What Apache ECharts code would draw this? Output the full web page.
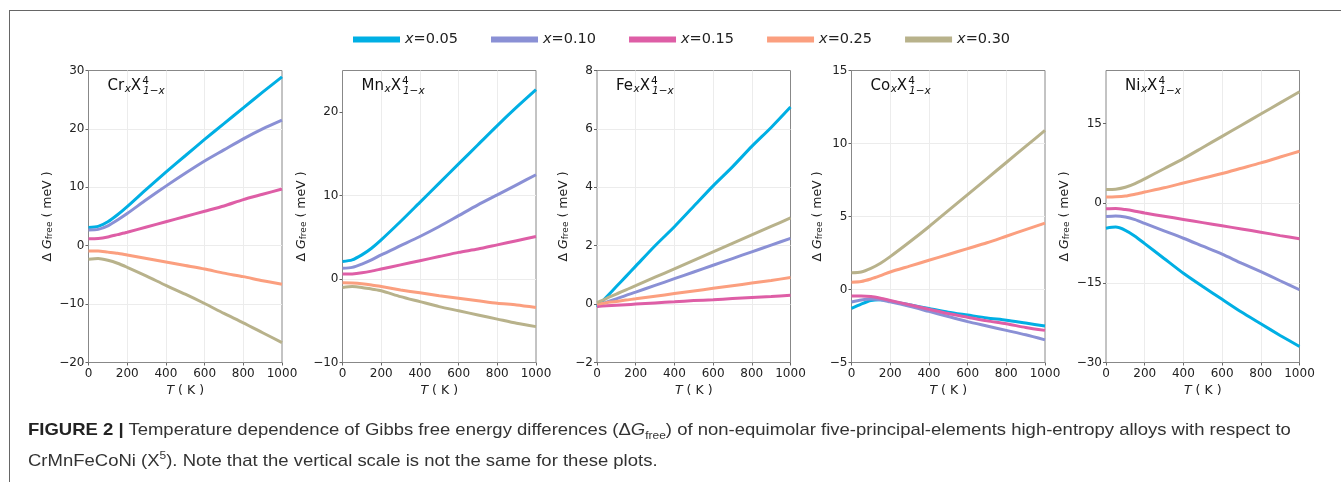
<!DOCTYPE html>
<html>
<head>
    <meta charset="utf-8">
    <title>Gibbs free energy differences</title>
    <script src="https://cdn.jsdelivr.net/npm/echarts@6/dist/echarts.min.js"></script>
    <style>
        body {margin: 0; background: #fff; overflow: hidden;}
        #frame {position: absolute; left: 9px; top: 10px; width: 1331px; height: 471px;
            border-left: 1px solid #666; border-top: 1px solid #666;}
        #main {position: absolute; left: 0; top: 0; width: 1341px; height: 482px;}
        #caption {position: absolute; left: 28px; top: 414px; font-family: "Liberation Sans Narrow", "Liberation Sans", Arial, sans-serif;
            font-size: 17px; line-height: 31px; color: #333; white-space: nowrap; transform-origin: 0 0;}
        #caption b {color: #222;}
        #caption sub, #caption sup {font-size: 11px; line-height: 0;}
    </style>
</head>
<body>
<div id="frame"></div>
<div id="main"></div>
<div id="caption">
    <div id="cap1"><b>FIGURE 2 |</b> Temperature dependence of Gibbs free energy differences (&Delta;<i>G</i><sub>free</sub>) of non-equimolar five-principal-elements high-entropy alloys with respect to</div>
    <div>CrMnFeCoNi (X<sup>5</sup>). Note that the vertical scale is not the same for these plots.</div>
</div>
<script type="text/javascript">
    // temperature grid (K)
    var temps = [0, 50, 100, 150, 200, 300, 400, 500, 600, 700, 800, 900, 1000];
    var fractions = ['0.05', '0.10', '0.15', '0.25', '0.30'];
    var colors = ['#00afe4', '#8a90d5', '#de5ea6', '#fb9f7f', '#b8b28b'];

    // ΔG_free (meV), one row per x, in the order of fractions
    var crValues = [
        [3.1, 3.3, 4.1, 5.3, 6.7, 9.7, 12.6, 15.4, 18.2, 20.9, 23.6, 26.3, 28.9],
        [2.7, 2.8, 3.4, 4.4, 5.5, 7.9, 10.2, 12.4, 14.5, 16.4, 18.3, 20.0, 21.5],
        [1.2, 1.25, 1.5, 1.9, 2.3, 3.2, 4.1, 5.0, 5.9, 6.8, 7.9, 8.8, 9.7],
        [-0.9, -0.9, -1.1, -1.3, -1.6, -2.2, -2.8, -3.4, -4.0, -4.7, -5.3, -6.0, -6.6],
        [-2.3, -2.2, -2.5, -3.0, -3.7, -5.2, -6.8, -8.3, -9.9, -11.6, -13.2, -14.9, -16.6]
    ];
    var mnValues = [
        [2.1, 2.3, 2.9, 3.7, 4.7, 6.9, 9.2, 11.5, 13.8, 16.1, 18.4, 20.6, 22.7],
        [1.3, 1.4, 1.8, 2.3, 2.9, 4.0, 5.1, 6.3, 7.6, 8.9, 10.1, 11.3, 12.5],
        [0.6, 0.62, 0.75, 0.95, 1.2, 1.7, 2.2, 2.7, 3.2, 3.6, 4.1, 4.6, 5.1],
        [-0.45, -0.47, -0.55, -0.7, -0.9, -1.3, -1.65, -2.0, -2.3, -2.6, -2.9, -3.1, -3.4],
        [-1.0, -0.9, -1.0, -1.2, -1.4, -2.1, -2.7, -3.3, -3.8, -4.3, -4.8, -5.3, -5.7]
    ];
    var feValues = [
        [-0.1, 0.25, 0.6, 0.95, 1.3, 2.0, 2.65, 3.35, 4.05, 4.7, 5.4, 6.05, 6.75],
        [-0.05, 0.07, 0.18, 0.3, 0.41, 0.64, 0.87, 1.1, 1.33, 1.56, 1.79, 2.02, 2.25],
        [-0.08, -0.06, -0.04, -0.02, 0.0, 0.04, 0.08, 0.12, 0.15, 0.19, 0.23, 0.26, 0.3],
        [0.0, 0.05, 0.09, 0.14, 0.18, 0.27, 0.36, 0.45, 0.54, 0.63, 0.72, 0.81, 0.91],
        [0.05, 0.2, 0.34, 0.49, 0.63, 0.92, 1.21, 1.5, 1.79, 2.08, 2.37, 2.66, 2.95]
    ];
    var coValues = [
        [-1.3, -1.0, -0.75, -0.7, -0.8, -1.05, -1.3, -1.55, -1.75, -1.95, -2.1, -2.3, -2.5],
        [-0.85, -0.72, -0.65, -0.7, -0.85, -1.15, -1.5, -1.85, -2.2, -2.5, -2.8, -3.1, -3.45],
        [-0.45, -0.44, -0.48, -0.6, -0.75, -1.05, -1.35, -1.65, -1.9, -2.15, -2.35, -2.6, -2.8],
        [0.5, 0.55, 0.72, 0.95, 1.2, 1.6, 2.0, 2.4, 2.8, 3.2, 3.65, 4.1, 4.55],
        [1.15, 1.2, 1.45, 1.8, 2.25, 3.25, 4.3, 5.4, 6.5, 7.6, 8.7, 9.8, 10.9]
    ];
    var niValues = [
        [-4.7, -4.5, -5.1, -6.2, -7.6, -10.4, -13.2, -15.7, -18.1, -20.5, -22.7, -24.9, -27.0],
        [-2.5, -2.4, -2.6, -3.1, -3.8, -5.2, -6.6, -8.1, -9.6, -11.3, -12.9, -14.6, -16.3],
        [-1.05, -1.0, -1.2, -1.5, -1.85, -2.45, -3.05, -3.65, -4.25, -4.85, -5.45, -6.1, -6.7],
        [1.15, 1.2, 1.35, 1.7, 2.1, 2.9, 3.8, 4.7, 5.6, 6.6, 7.6, 8.7, 9.8],
        [2.6, 2.65, 3.0, 3.7, 4.6, 6.5, 8.4, 10.5, 12.6, 14.7, 16.8, 18.9, 21.0]
    ];

    // per panel: element, y range, labelled y ticks
    var elements = ['Cr', 'Mn', 'Fe', 'Co', 'Ni'];
    var panelValues = [crValues, mnValues, feValues, coValues, niValues];
    var yMins = [-20, -10, -2, -5, -30];
    var yMaxs = [30, 25, 8, 15, 25];
    var yMajor = [10, 10, 2, 5, 15];

    var panelLefts = [88.5, 342.5, 597, 851.5, 1106];
    var panelTop = 70.5, panelWidth = 193.5, panelHeight = 292;
    var nameGaps = [34, 34, 27, 27, 35];

    var chart = echarts.init(document.getElementById('main'));

    function minus(v) {
        return String(v).replace('-', '\u2212');
    }

    // El_x X^4_{1-x}: the "4" has a negative right padding so "1-x" sits under it
    var titleRich = {
        n: {fontSize: 15, fontFamily: 'DejaVu Sans', fontWeight: 'normal', color: '#111', lineHeight: 22},
        s: {fontSize: 10.5, fontFamily: 'DejaVu Sans', fontWeight: 'normal', fontStyle: 'italic', color: '#111', verticalAlign: 'bottom', padding: [0, 0, 2, 0.5]},
        p: {fontSize: 10.5, fontFamily: 'DejaVu Sans', fontWeight: 'normal', color: '#111', verticalAlign: 'top', padding: [1, -6.7, 0, 1]},
        b: {fontSize: 10.5, fontFamily: 'DejaVu Sans', fontWeight: 'normal', fontStyle: 'italic', color: '#111', verticalAlign: 'bottom', padding: [0, 0, 0, 1]}
    };

    var grids = [], xAxes = [], yAxes = [], series = [], titles = [];

    for (var p = 0; p < 5; p++) {
        grids.push({
            left: panelLefts[p], top: panelTop, width: panelWidth, height: panelHeight,
            show: true, borderColor: '#888', borderWidth: 1, backgroundColor: 'transparent'
        });
        xAxes.push({
            gridIndex: p, type: 'value', min: 0, max: 1000, interval: 200,
            name: '{i|T}{n| ( K )}', nameLocation: 'middle', nameGap: 20,
            nameTextStyle: {
                rich: {
                    i: {fontStyle: 'italic', fontSize: 12.5, fontFamily: 'DejaVu Sans', color: '#222'},
                    n: {fontSize: 12.5, fontFamily: 'DejaVu Sans', color: '#222'}
                }
            },
            axisLine: {show: false, onZero: false},
            axisTick: {show: true, length: 3, lineStyle: {color: '#666'}},
            axisLabel: {fontSize: 12, fontFamily: 'DejaVu Sans', color: '#222', margin: 5,
                formatter: function (v) { return String(v); }},
            splitLine: {show: true, showMinLine: false, showMaxLine: false, lineStyle: {color: '#ececec', width: 1}}
        });
        var major = [];
        for (var v = yMins[p]; v <= yMaxs[p] + 1e-9; v += yMajor[p]) major.push(v);
        yAxes.push({
            gridIndex: p, type: 'value', min: yMins[p], max: yMaxs[p], interval: yMajor[p] / 2,
            name: '{n|\u0394 }{i|G}{s|free}{n| ( meV )}', nameLocation: 'middle', nameGap: nameGaps[p],
            nameRotate: 90,
            nameTextStyle: {
                rich: {
                    n: {fontSize: 12.5, fontFamily: 'DejaVu Sans', color: '#222'},
                    i: {fontStyle: 'italic', fontSize: 12.5, fontFamily: 'DejaVu Sans', color: '#222'},
                    s: {fontSize: 9, fontFamily: 'DejaVu Sans', color: '#222', verticalAlign: 'bottom'}
                }
            },
            axisLine: {show: false, onZero: false},
            axisTick: {show: true, length: 3, customValues: major, lineStyle: {color: '#666'}},
            axisLabel: {
                fontSize: 12, fontFamily: 'DejaVu Sans', color: '#222', margin: 4,
                customValues: major, formatter: minus
            },
            splitLine: {show: true, showMinLine: false, showMaxLine: false, lineStyle: {color: '#ececec', width: 1}}
        });
        for (var s = 0; s < 5; s++) {
            var pts = [];
            for (var k = 0; k < temps.length; k++) pts.push([temps[k], panelValues[p][s][k]]);
            series.push({
                name: 'x=' + fractions[s], type: 'line', xAxisIndex: p, yAxisIndex: p,
                data: pts, smooth: 0.25, showSymbol: false, animation: false,
                lineStyle: {width: 3, color: colors[s]}, itemStyle: {color: colors[s]}
            });
        }
        titles.push({
            left: panelLefts[p] + 19, top: 75, padding: 0,
            text: '{n|' + elements[p] + '}{s|x}{n|X}{p|4}{b|1\u2212x}',
            textStyle: {fontWeight: 'normal', rich: titleRich}
        });
    }

    var option = {
        animation: false,
        title: titles,
        legend: {
            left: 348, top: 27, itemWidth: 47, itemHeight: 6, itemGap: 33, icon: 'rect',
            data: fractions.map(function (f) { return 'x=' + f; }),
            formatter: function (name) { return '{i|x}{n|' + name.slice(1) + '}'; },
            textStyle: {
                rich: {
                    i: {fontStyle: 'italic', fontSize: 14.5, fontFamily: 'DejaVu Sans', color: '#222'},
                    n: {fontSize: 14.5, fontFamily: 'DejaVu Sans', color: '#222'}
                }
            }
        },
        grid: grids,
        xAxis: xAxes,
        yAxis: yAxes,
        series: series
    };
    chart.setOption(option);

    // fit the caption to the width of the original figure caption
    var cap = document.getElementById('caption');
    var w = document.getElementById('cap1').scrollWidth;
    cap.style.transform = 'scaleX(' + (1263 / w) + ')';
</script>
</body>
</html>
